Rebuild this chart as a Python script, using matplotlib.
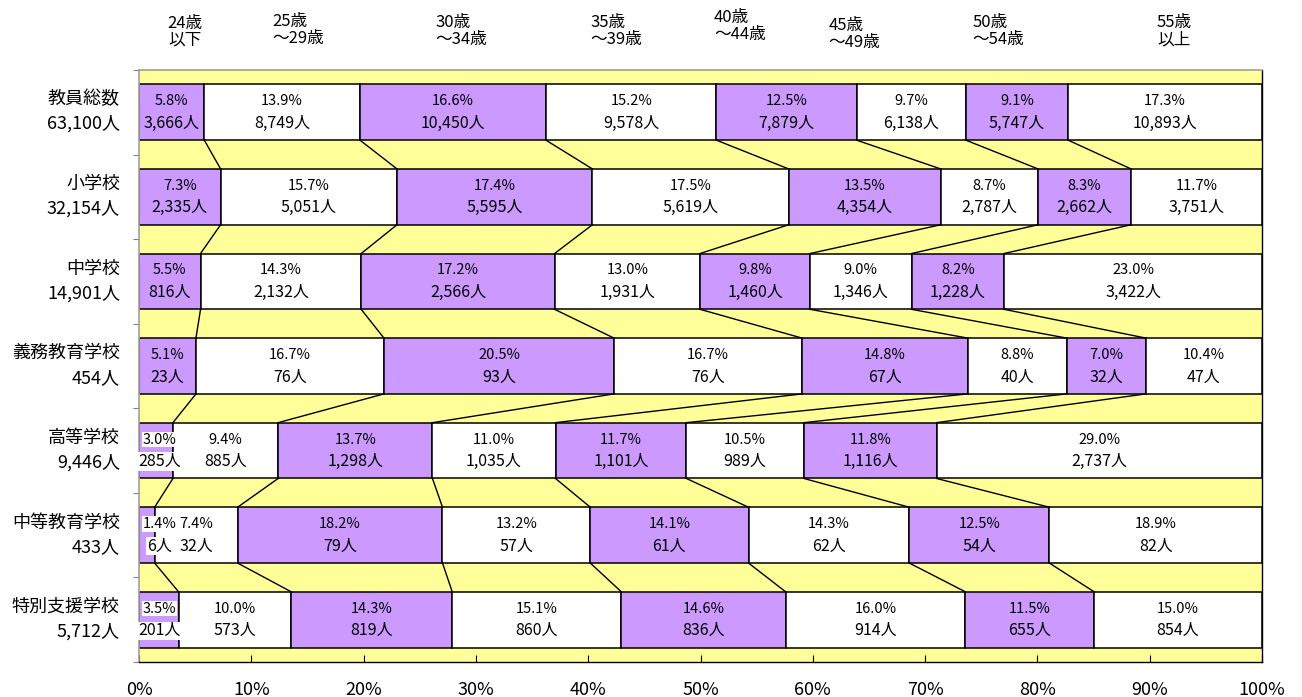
import matplotlib.pyplot as plt
import numpy as np

plt.rcParams['font.family'] = ['Noto Sans CJK JP', 'DejaVu Sans']

categories = ["教員総数", "小学校", "中学校", "義務教育学校", "高等学校", "中等教育学校", "特別支援学校"]
totals = ["63,100人", "32,154人", "14,901人", "454人", "9,446人", "433人", "5,712人"]
age_groups = ["24歳\n以下", "25歳\n～29歳", "30歳\n～34歳", "35歳\n～39歳",
              "40歳\n～44歳", "45歳\n～49歳", "50歳\n～54歳", "55歳\n以上"]

pct = [
    [5.8, 13.9, 16.6, 15.2, 12.5, 9.7, 9.1, 17.3],
    [7.3, 15.7, 17.4, 17.5, 13.5, 8.7, 8.3, 11.7],
    [5.5, 14.3, 17.2, 13.0, 9.8, 9.0, 8.2, 23.0],
    [5.1, 16.7, 20.5, 16.7, 14.8, 8.8, 7.0, 10.4],
    [3.0, 9.4, 13.7, 11.0, 11.7, 10.5, 11.8, 29.0],
    [1.4, 7.4, 18.2, 13.2, 14.1, 14.3, 12.5, 18.9],
    [3.5, 10.0, 14.3, 15.1, 14.6, 16.0, 11.5, 15.0],
]
counts = [
    [3666, 8749, 10450, 9578, 7879, 6138, 5747, 10893],
    [2335, 5051, 5595, 5619, 4354, 2787, 2662, 3751],
    [816, 2132, 2566, 1931, 1460, 1346, 1228, 3422],
    [23, 76, 93, 76, 67, 40, 32, 47],
    [285, 885, 1298, 1035, 1101, 989, 1116, 2737],
    [6, 32, 79, 57, 61, 62, 54, 82],
    [201, 573, 819, 860, 836, 914, 655, 854],
]

PURPLE = "#CC99FF"
YELLOW = "#FFFF99"
BAR_H = 0.66

fig = plt.figure(figsize=(13.02, 6.97), dpi=100)
ax = fig.add_axes([0.1068, 0.0502, 0.8625, 0.8494])
ax.set_facecolor(YELLOW)

cum_rows = []
for i, row in enumerate(counts):
    widths = np.array(row, dtype=float) / sum(row) * 100
    lefts = np.concatenate([[0], np.cumsum(widths)[:-1]])
    cum_rows.append(np.cumsum(widths))
    colors = [PURPLE if j % 2 == 0 else "white" for j in range(len(row))]
    ax.barh(i, widths, left=lefts, height=BAR_H, color=colors,
            edgecolor="black", linewidth=1.1, zorder=2)
    for j, (w, l) in enumerate(zip(widths, lefts)):
        x = l + w / 2
        box = None
        if w < 4.5 and i >= 4:
            # small first segments: label sits on a white box, like the original
            x = max(x, 1.8)
            box = dict(facecolor="white", edgecolor="none", pad=0.5)
        ax.text(x, i - 0.13, f"{pct[i][j]:.1f}%", ha="center", va="center",
                fontsize=10.5, zorder=4, bbox=box)
        ax.text(x, i + 0.13, f"{counts[i][j]:,}人", ha="center", va="center",
                fontsize=11.5, zorder=4, bbox=box)

# connector lines between neighbouring bars
for i in range(len(counts) - 1):
    for a, b in zip(cum_rows[i][:-1], cum_rows[i + 1][:-1]):
        ax.plot([a, b], [i + BAR_H / 2, i + 1 - BAR_H / 2],
                color="black", lw=1.0, zorder=3)

# row labels
for i, (c, t) in enumerate(zip(categories, totals)):
    ax.text(-1.7, i - 0.15, c, ha="right", va="center", fontsize=13)
    ax.text(-1.7, i + 0.14, t, ha="right", va="center", fontsize=13)

# age group headers (hand placed like the original)
head_x = [4.1, 11.9, 26.4, 40.2, 51.2, 61.4, 74.2, 92.2]
head_y = [-0.95, -0.97, -0.96, -0.96, -1.02, -0.93, -0.96, -0.96]
for k, (lab, hx, hy) in enumerate(zip(age_groups, head_x, head_y)):
    centered = k in (0, 7)
    ax.text(hx, hy, lab, ha="center" if centered else "left", va="center",
            fontsize=12, linespacing=1.0, multialignment="center" if centered else "left",
            clip_on=False)

ax.set_xlim(0, 100)
ax.set_ylim(len(categories) - 0.5, -0.5)
ax.set_xticks(np.arange(0, 101, 10))
ax.set_xticklabels([f"{v}%" for v in range(0, 101, 10)], fontsize=13)
ax.tick_params(axis="x", direction="in", length=5, pad=14)
ax.set_yticks(np.arange(-0.5, len(categories), 1.0))
ax.set_yticklabels([])
ax.tick_params(axis="y", direction="out", length=4, color="#808080")
for side in ("left", "top"):
    ax.spines[side].set_color("#A0A0A0")
    ax.spines[side].set_linewidth(1.2)
for side in ("right", "bottom"):
    ax.spines[side].set_color("black")
    ax.spines[side].set_linewidth(1.0)

fig.savefig("out.png", dpi=100)
